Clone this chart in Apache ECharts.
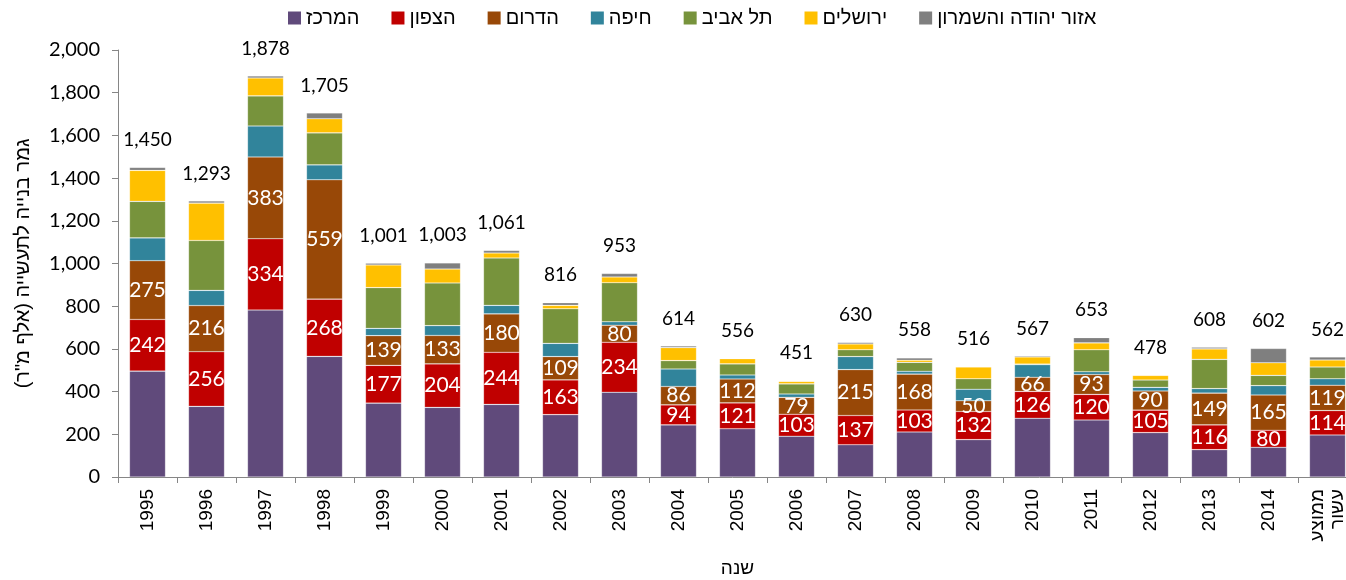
<!DOCTYPE html>
<html>
<head>
<meta charset="utf-8">
<script src="https://cdn.jsdelivr.net/npm/echarts@6/dist/echarts.min.js"></script>
<style>html,body{margin:0;padding:0;background:#fff}#c{width:1346px;height:580px}</style>
</head>
<body>
<div id="c"></div>
<script>
const categories = ['1995','1996','1997','1998','1999','2000','2001','2002','2003','2004','2005','2006','2007','2008','2009','2010','2011','2012','2013','2014','ממוצע\nעשור'];
const seriesNames = ['המרכז','הצפון','הדרום','חיפה','תל אביב','ירושלים','אזור יהודה והשמרון'];
const center    = [496,331,782,565,346,326,340,292,397,244,226,191,151,211,175,275,267,208,128,139,197];
const north     = [242,256,334,268,177,204,244,163,234,94,121,103,137,103,132,126,120,105,116,80,114];
const south     = [275,216,383,559,139,133,180,109,80,86,112,79,215,168,50,66,93,90,149,165,119];
const haifa     = [107,71,145,70,34,46,40,62,16,82,19,16,61,13,54,59,13,17,21,44,30];
const telAviv   = [171,234,141,150,191,200,222,162,183,39,52,47,32,42,49,3,103,34,137,48,55];
const jerusalem = [145,175,84,66,106,65,23,16,27,61,24,12,27,10,56,33,32,22,49,59,33];
const judea     = [14,10,9,27,8,29,12,12,16,8,2,3,7,11,0,5,25,2,8,67,14];
const totals    = [1450,1293,1878,1705,1001,1003,1061,816,953,614,556,451,630,558,516,567,653,478,608,602,562];
const yTicks = [0,200,400,600,800,1000,1200,1400,1600,1800,2000];

const colors = ['#604A7B','#C00000','#984807','#31849B','#77933C','#FFC000','#7F7F7F'];
const values = [center, north, south, haifa, telAviv, jerusalem, judea];
const labeled = [false, true, true, false, false, false, false];
const NUM = 'Lato, "Open Sans", sans-serif';
const HEB = '"Liberation Sans", Arial, sans-serif';

const series = values.map((arr, i) => ({
  name: seriesNames[i],
  type: 'bar',
  stack: 'total',
  barWidth: 36,
  data: arr,
  itemStyle: { color: colors[i], borderColor: 'rgba(255,255,255,0.35)', borderWidth: 0.6 },
  label: labeled[i] ? { show: true, position: 'inside', color: '#fff', fontSize: 21, fontFamily: NUM } : { show: false },
  emphasis: { disabled: true }
}));
series.push({
  name: 'סה"כ',
  type: 'bar',
  stack: 'total',
  barWidth: 36,
  data: totals.map(() => 0),
  itemStyle: { color: 'transparent' },
  label: {
    show: true, position: 'top', distance: 18, color: '#000', fontSize: 19, fontFamily: NUM,
    formatter: p => totals[p.dataIndex].toLocaleString('en-US')
  },
  emphasis: { disabled: true }
});

const chart = echarts.init(document.getElementById('c'), null, { renderer: 'canvas' });
chart.setOption({
  animation: false,
  backgroundColor: '#fff',
  legend: {
    data: seriesNames,
    left: 283, top: 3,
    icon: 'rect', itemWidth: 13, itemHeight: 13, itemGap: 32, itemStyle: { borderWidth: 0 },
    textStyle: { fontSize: 20, fontFamily: HEB, color: '#000' }
  },
  grid: { left: 118, right: -11, top: 50, bottom: 103, containLabel: false, outerBoundsMode: 'none' },
  xAxis: {
    type: 'category',
    data: categories,
    axisLine: { lineStyle: { color: '#868686' } },
    axisTick: { show: true, length: 6, lineStyle: { color: '#868686' } },
    axisLabel: { rotate: 90, fontSize: 19, color: '#000', fontFamily: HEB, margin: 12, lineHeight: 20 },
    name: 'שנה', nameLocation: 'middle', nameGap: 82,
    nameTextStyle: { fontSize: 19, fontFamily: HEB, color: '#000' }
  },
  yAxis: {
    type: 'value', min: 0, max: 2000, interval: 200,
    axisLine: { show: true, lineStyle: { color: '#868686' } },
    axisTick: { show: true, length: 6, lineStyle: { color: '#868686' } },
    splitLine: { show: false },
    axisLabel: { fontSize: 20, color: '#000', fontFamily: NUM, margin: 18,
      formatter: v => v.toLocaleString('en-US') },
    name: 'גמר בנייה לתעשייה (אלף מ"ר)\u200F', nameLocation: 'middle', nameGap: 85, nameRotate: 90,
    nameTextStyle: { fontSize: 20, fontFamily: HEB, color: '#000' }
  },
  series: series
});
</script>
</body>
</html>
